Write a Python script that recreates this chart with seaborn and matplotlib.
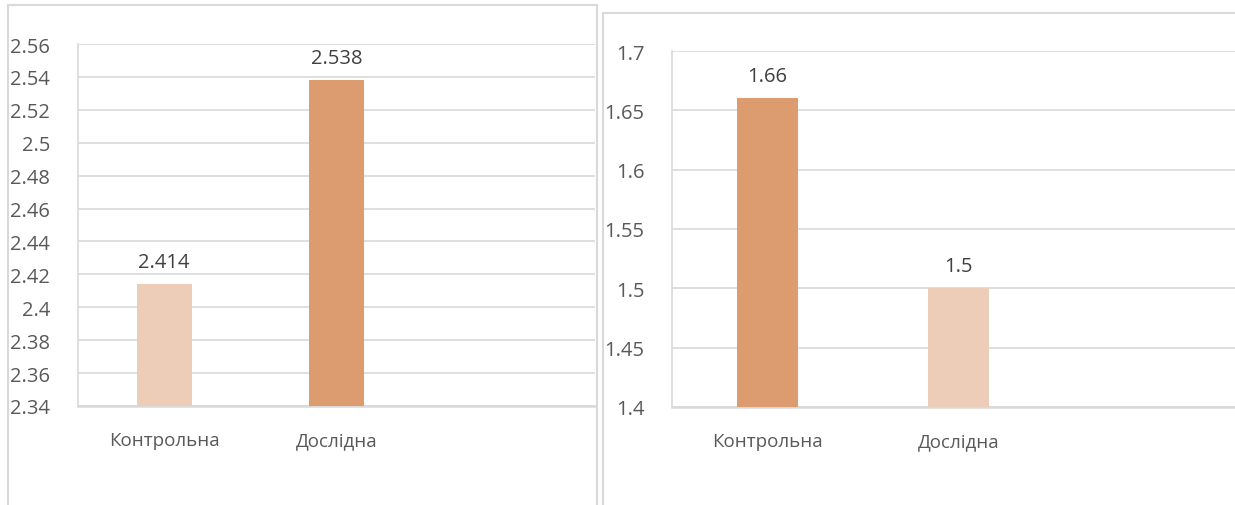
import matplotlib
matplotlib.use("Agg")
import matplotlib.pyplot as plt
import seaborn as sns
import pandas as pd
from matplotlib.patches import Rectangle

# Groups and values for both panels
groups = ["Контрольна", "Дослідна"]
left_values = [2.414, 2.538]
right_values = [1.66, 1.5]
left_labels = ["2.414", "2.538"]
right_labels = ["1.66", "1.5"]

left_ticks = [2.34, 2.36, 2.38, 2.4, 2.42, 2.44, 2.46, 2.48, 2.5, 2.52, 2.54, 2.56]
left_ticklabels = ["2.34", "2.36", "2.38", "2.4", "2.42", "2.44", "2.46", "2.48",
                   "2.5", "2.52", "2.54", "2.56"]
right_ticks = [1.4, 1.45, 1.5, 1.55, 1.6, 1.65, 1.7]
right_ticklabels = ["1.4", "1.45", "1.5", "1.55", "1.6", "1.65", "1.7"]

LIGHT = "#EDCDB7"
DARK = "#DD9C6F"
GRID = "#D9D9D9"
TEXT = "#595959"

sns.set_style("white")
plt.rcParams["font.family"] = ["Open Sans", "DejaVu Sans"]

fig = plt.figure(figsize=(12.35, 5.06), dpi=100)

# panel frames like the Word chart boxes
fig.patches.append(Rectangle((8 / 1235, -0.1), (597 - 8) / 1235, 1.1 - 6 / 506,
                             transform=fig.transFigure, fill=False,
                             edgecolor=GRID, linewidth=1.5))
fig.patches.append(Rectangle((603 / 1235, -0.1), 0.6, 1.1 - 14 / 506,
                             transform=fig.transFigure, fill=False,
                             edgecolor=GRID, linewidth=1.5))

ax1 = fig.add_axes([78 / 1235, 1 - 407 / 506, 517 / 1235, (407 - 45) / 506])
ax2 = fig.add_axes([672 / 1235, 1 - 408 / 506, 573 / 1235, (408 - 52) / 506])


def draw(ax, values, labels, colors, ticks, ticklabels):
    df = pd.DataFrame({"group": groups, "value": values})
    sns.barplot(data=df, x="group", y="value", hue="group", palette=colors,
                width=0.32, saturation=1, linewidth=0, legend=False, ax=ax, zorder=3)
    ax.set_xlim(-0.5, 2.5)
    ax.set_ylim(ticks[0], ticks[-1])
    ax.set_yticks(ticks)
    ax.set_yticklabels(ticklabels)
    ax.set_xlabel("")
    ax.set_ylabel("")
    ax.yaxis.grid(True, color=GRID, linewidth=1.2)
    ax.set_axisbelow(True)
    for s in ["top", "right"]:
        ax.spines[s].set_visible(False)
    ax.spines["left"].set_color(GRID)
    ax.spines["left"].set_linewidth(1.2)
    ax.spines["bottom"].set_color(GRID)
    ax.spines["bottom"].set_linewidth(1.8)
    ax.tick_params(axis="both", length=0, colors=TEXT)
    ax.tick_params(axis="y", pad=20, labelsize=14.5)
    ax.tick_params(axis="x", pad=18, labelsize=13.5)
    # value labels above bars
    for i, (v, lab) in enumerate(zip(values, labels)):
        ax.annotate(lab, (i, v), xytext=(0, 9), textcoords="offset points",
                    ha="center", va="bottom", fontsize=14.5, color="#404040")


draw(ax1, left_values, left_labels, [LIGHT, DARK], left_ticks, left_ticklabels)
draw(ax2, right_values, right_labels, [DARK, LIGHT], right_ticks, right_ticklabels)

fig.savefig("out.png", dpi=100)
